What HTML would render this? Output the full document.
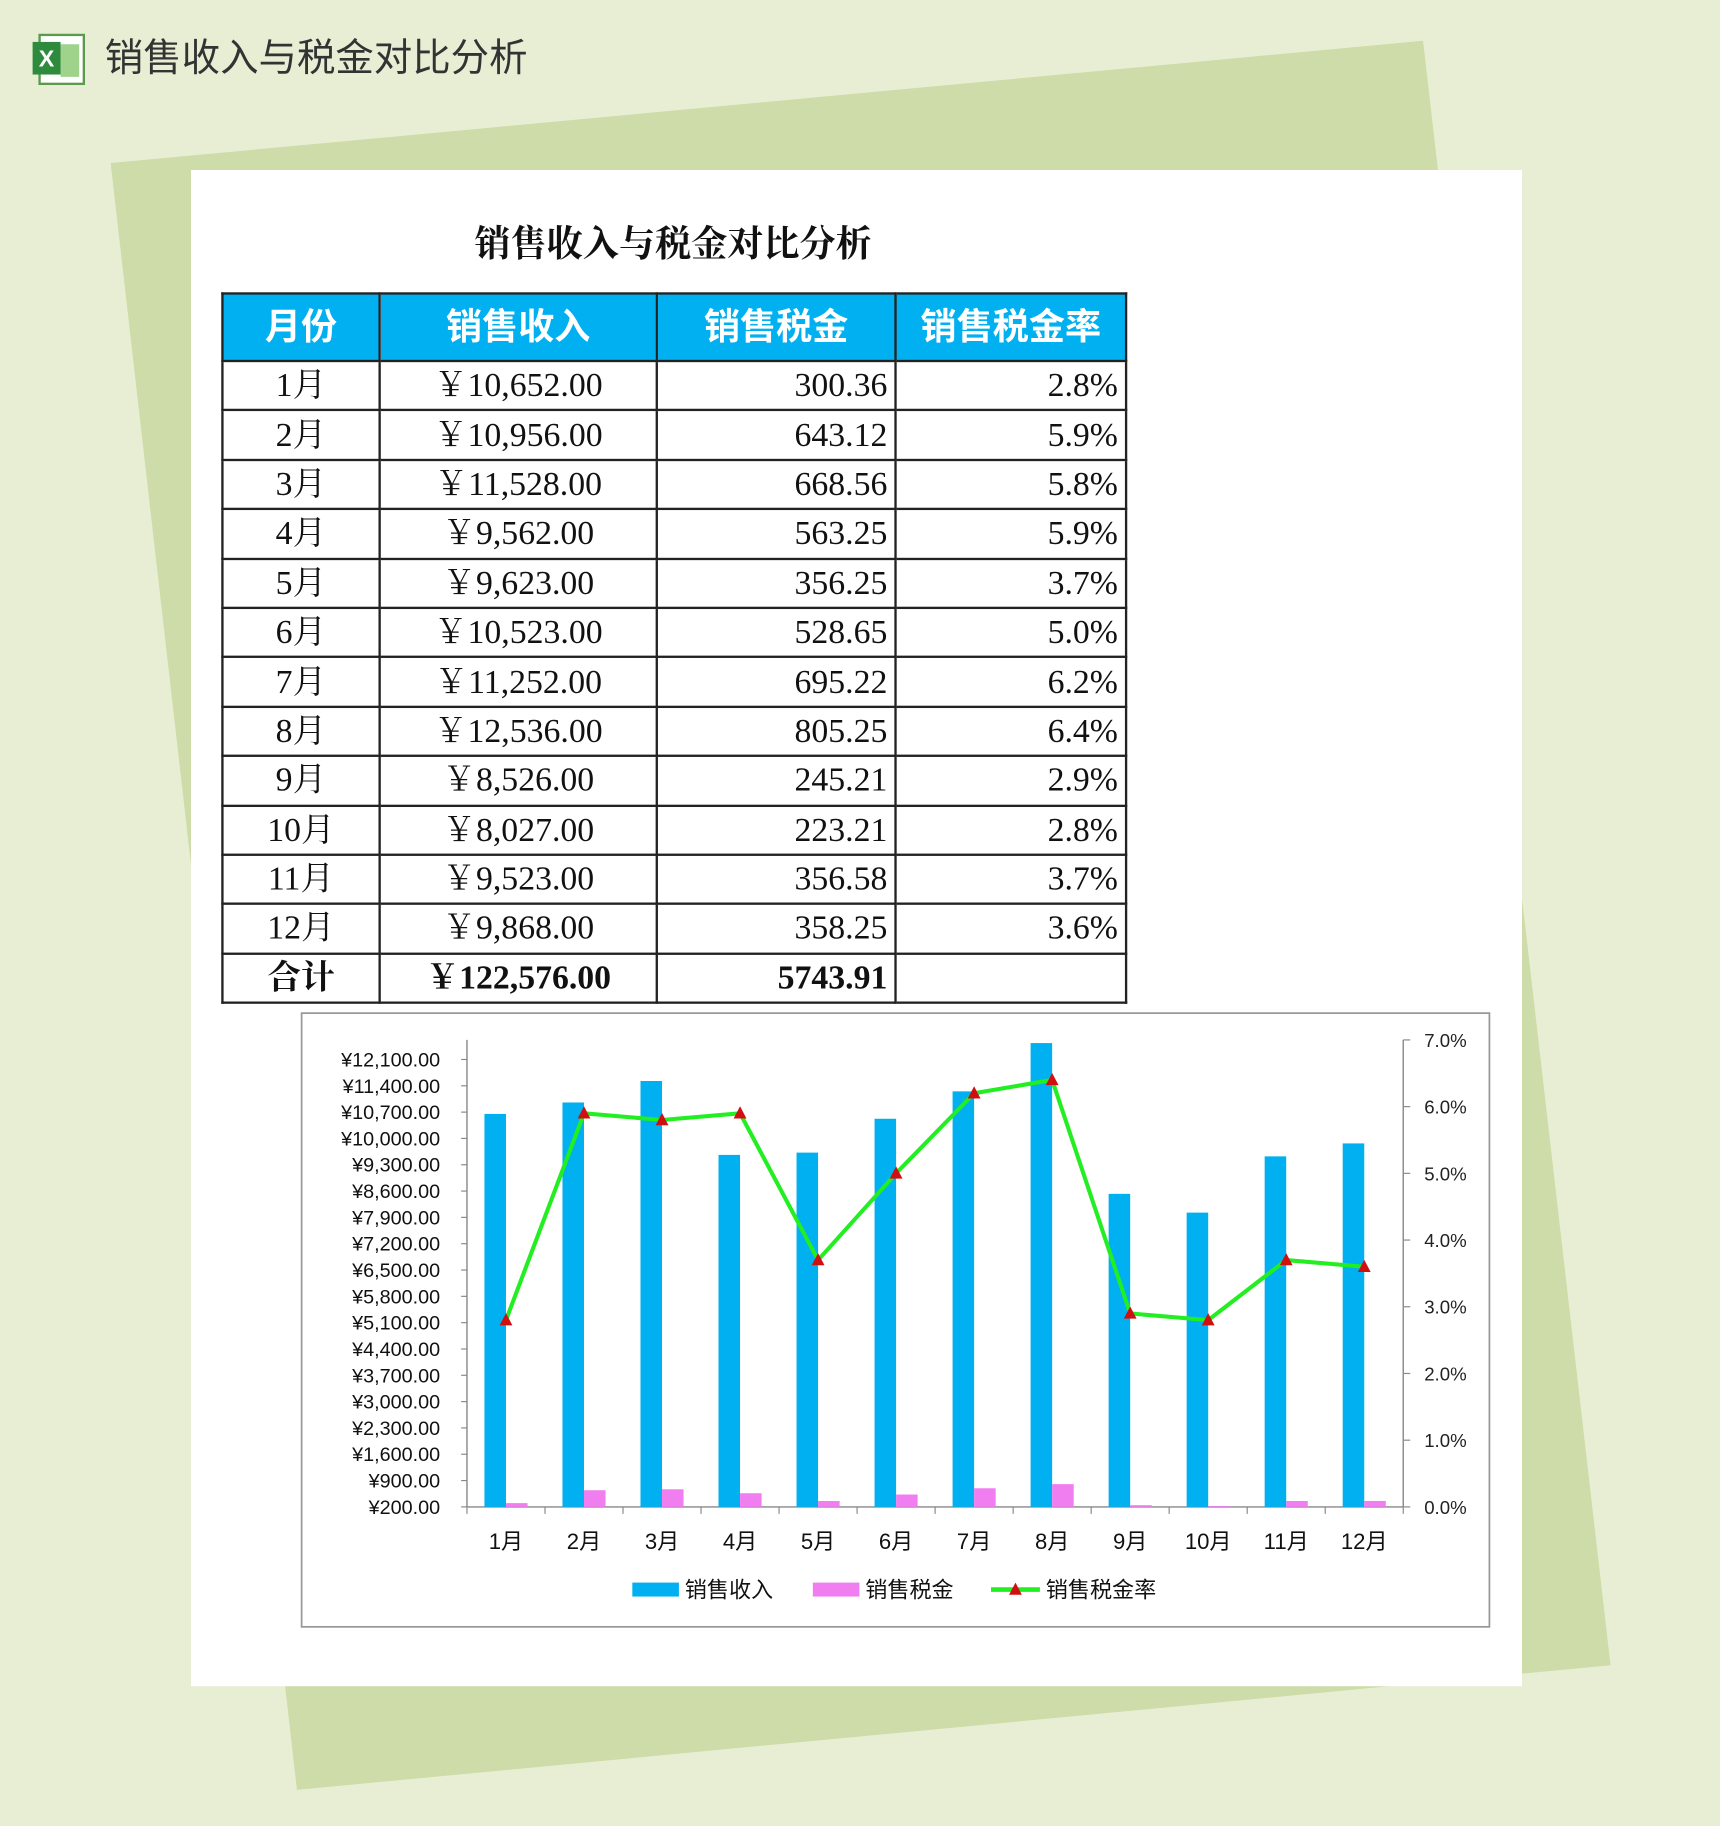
<!DOCTYPE html>
<html><head><meta charset="utf-8">
<style>
html,body{margin:0;padding:0;width:1720px;height:1826px;overflow:hidden;background:#e8eed4;}
#wrap{position:absolute;left:0;top:0;width:1477px;height:1568px;transform:scale(1.16452);transform-origin:0 0;}
.abs{position:absolute;}
table{border-collapse:collapse;position:absolute;left:190px;top:251px;table-layout:fixed;}
td,th{border:2px solid #222;padding:0 6px;height:42.4px;line-height:30px;font-family:"Liberation Serif","Noto Serif CJK SC",serif;font-size:29px;color:#111;box-sizing:border-box;overflow:hidden;white-space:nowrap;}
th{background:#00b0f0;color:#fff;height:58px;font-family:"Liberation Sans","Noto Sans CJK SC",sans-serif;font-size:31px;font-weight:bold;}
td.c{text-align:center}td.r{text-align:right}
tr.tot td{font-weight:bold;}
</style></head><body>
<div id="wrap">
<svg class="abs" style="left:0;top:0" width="1477" height="1568">
<polygon points="95,140 1222,35 1383,1430 255,1537" fill="#cddca8"/>
</svg>
<svg class="abs" style="left:26px;top:28px" width="48" height="46">
<rect x="8" y="2" width="38" height="42" fill="#fff" stroke="#5a9a4a" stroke-width="2"/>
<rect x="26" y="10" width="16" height="28" fill="#9fd28a"/>
<rect x="2" y="8" width="24" height="28" fill="#2e8b3e"/>
<text x="14" y="29" font-family="Liberation Sans" font-size="20" font-weight="bold" fill="#fff" text-anchor="middle">X</text>
</svg>
<div class="abs" style="left:90px;top:28px;font-family:'Liberation Sans','Noto Sans CJK SC',sans-serif;font-size:33px;color:#333;line-height:44px">销售收入与税金对比分析</div>
<div class="abs" style="left:164px;top:146px;width:1143px;height:1302px;background:#fff"></div>
<div class="abs" style="left:190px;top:188px;width:776px;text-align:center;font-family:'Liberation Serif','Noto Serif CJK SC',serif;font-weight:bold;font-size:31px;color:#111;line-height:44px">销售收入与税金对比分析</div>
<table>
<colgroup><col style="width:135px"><col style="width:238px"><col style="width:205px"><col style="width:198px"></colgroup>
<tr><th>月份</th><th>销售收入</th><th>销售税金</th><th>销售税金率</th></tr>
<tr><td class="c">1月</td><td class="c">￥10,652.00</td><td class="r">300.36</td><td class="r">2.8%</td></tr>
<tr><td class="c">2月</td><td class="c">￥10,956.00</td><td class="r">643.12</td><td class="r">5.9%</td></tr>
<tr><td class="c">3月</td><td class="c">￥11,528.00</td><td class="r">668.56</td><td class="r">5.8%</td></tr>
<tr><td class="c">4月</td><td class="c">￥9,562.00</td><td class="r">563.25</td><td class="r">5.9%</td></tr>
<tr><td class="c">5月</td><td class="c">￥9,623.00</td><td class="r">356.25</td><td class="r">3.7%</td></tr>
<tr><td class="c">6月</td><td class="c">￥10,523.00</td><td class="r">528.65</td><td class="r">5.0%</td></tr>
<tr><td class="c">7月</td><td class="c">￥11,252.00</td><td class="r">695.22</td><td class="r">6.2%</td></tr>
<tr><td class="c">8月</td><td class="c">￥12,536.00</td><td class="r">805.25</td><td class="r">6.4%</td></tr>
<tr><td class="c">9月</td><td class="c">￥8,526.00</td><td class="r">245.21</td><td class="r">2.9%</td></tr>
<tr><td class="c">10月</td><td class="c">￥8,027.00</td><td class="r">223.21</td><td class="r">2.8%</td></tr>
<tr><td class="c">11月</td><td class="c">￥9,523.00</td><td class="r">356.58</td><td class="r">3.7%</td></tr>
<tr><td class="c">12月</td><td class="c">￥9,868.00</td><td class="r">358.25</td><td class="r">3.6%</td></tr>
<tr class="tot"><td class="c">合计</td><td class="c">￥122,576.00</td><td class="r">5743.91</td><td></td></tr>
</table>
<svg id="chart" class="abs" style="left:0;top:0" width="1477" height="1568"></svg>
</div>
<script>
const months=["1月","2月","3月","4月","5月","6月","7月","8月","9月","10月","11月","12月"];
const income=[10652,10956,11528,9562,9623,10523,11252,12536,8526,8027,9523,9868];
const tax=[300.36,643.12,668.56,563.25,356.25,528.65,695.22,805.25,245.21,223.21,356.58,358.25];
const rate=[2.8,5.9,5.8,5.9,3.7,5.0,6.2,6.4,2.9,2.8,3.7,3.6];
const leftTicks=[200,900,1600,2300,3000,3700,4400,5100,5800,6500,7200,7900,8600,9300,10000,10700,11400,12100];
const rightTicks=[0,1,2,3,4,5,6,7];
const NS="http://www.w3.org/2000/svg";
const svg=document.getElementById('chart');
const X0=401,X1=1205,Y0=1294,YT=893;
const yL=v=>Y0-(v-200)*22.6/700;
const yR=v=>Y0-v*(Y0-YT)/7;
const slot=(X1-X0)/months.length;
const xc=i=>X0+slot*(i+0.5);
function el(t,a,p){const e=document.createElementNS(NS,t);for(const k in a)e.setAttribute(k,a[k]);(p||svg).appendChild(e);return e;}
const F='"Liberation Sans","Noto Sans CJK SC",sans-serif';
const box=el('rect',{x:259,y:870,width:1020,height:527,fill:'#fff',stroke:'#999','stroke-width':1.5});


el('line',{x1:X0,y1:YT,x2:X0,y2:Y0,stroke:'#888','stroke-width':1.2});
el('line',{x1:X1,y1:YT,x2:X1,y2:Y0,stroke:'#888','stroke-width':1.2});
el('line',{x1:X0,y1:Y0,x2:X1,y2:Y0,stroke:'#888','stroke-width':1.2});
leftTicks.forEach(v=>{const y=yL(v);el('line',{x1:X0-5,y1:y,x2:X0,y2:y,stroke:'#888'});
const t=el('text',{x:X0-23,y:y+6,'text-anchor':'end','font-family':F,'font-size':17,fill:'#111'});t.textContent='¥'+v.toLocaleString('en-US',{minimumFractionDigits:2});

});
rightTicks.forEach(v=>{const y=yR(v);el('line',{x1:X1,y1:y,x2:X1+6,y2:y,stroke:'#888'});
const t=el('text',{x:X1+18,y:y+6,'font-family':F,'font-size':16,fill:'#222'});t.textContent=v.toFixed(1)+'%';

});
for(let i=0;i<=months.length;i++){el('line',{x1:X0+slot*i,y1:Y0,x2:X0+slot*i,y2:Y0+6,stroke:'#888'});}
months.forEach((m,i)=>{
const c=xc(i);
const b=el('rect',{x:c-18.5,y:yL(income[i]),width:18.5,height:Y0-yL(income[i]),fill:'#00b0f0'});


const p=el('rect',{x:c,y:yL(tax[i]),width:18.5,height:Math.max(0,Y0-yL(tax[i])),fill:'#f07ef0'});


const t=el('text',{x:c,y:1330,'text-anchor':'middle','font-family':F,'font-size':19,fill:'#111'});t.textContent=m;


});
const pts=rate.map((r,i)=>xc(i)+','+yR(r)).join(' ');
const ln=el('polyline',{points:pts,fill:'none',stroke:'#22ee22','stroke-width':3.5,'stroke-linejoin':'round'});


rate.forEach((r,i)=>{const x=xc(i),y=yR(r);
const m=el('polygon',{points:`${x},${y-6} ${x-5.5},${y+4.5} ${x+5.5},${y+4.5}`,fill:'#d01010'});

});
const lg=el('g',{});


el('rect',{x:543,y:1359,width:40,height:12,fill:'#00b0f0'},lg);
let t=el('text',{x:588,y:1372,'font-family':F,'font-size':19,fill:'#111'},lg);t.textContent='销售收入';
el('rect',{x:698,y:1359,width:40,height:12,fill:'#f07ef0'},lg);
t=el('text',{x:743,y:1372,'font-family':F,'font-size':19,fill:'#111'},lg);t.textContent='销售税金';
el('line',{x1:851,y1:1365,x2:893,y2:1365,stroke:'#22ee22','stroke-width':4},lg);
el('polygon',{points:'872,1359 866.5,1369.5 877.5,1369.5',fill:'#d01010'},lg);
t=el('text',{x:898,y:1372,'font-family':F,'font-size':19,fill:'#111'},lg);t.textContent='销售税金率';
</script>
</body></html>
